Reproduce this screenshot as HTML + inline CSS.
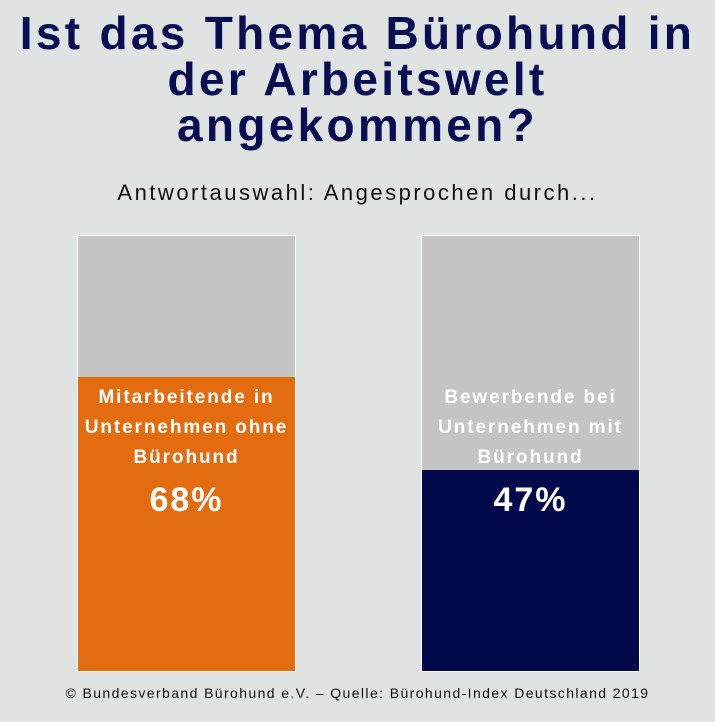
<!DOCTYPE html>
<html><head><meta charset="utf-8"><style>
body{margin:0;width:715px;height:722px;background:#dfe3e2;position:relative;overflow:hidden;font-family:"Liberation Sans",sans-serif}
.t{position:absolute;left:-20px;width:755px;text-align:center;color:#0a0d52;font-weight:bold;font-size:46px;line-height:46px;top:10px;letter-spacing:3.3px}
.s{position:absolute;left:-20px;width:755px;text-align:center;top:180px;font-size:22px;color:#111;letter-spacing:2.5px}
.bar{position:absolute;top:235px;width:217px;height:435px;border:1px solid #fff;background:#c4c4c4}
.fill{position:absolute;left:0;right:0;bottom:0}
.lab{position:absolute;left:-20px;right:-20px;text-align:center;color:#fff;font-weight:bold;font-size:19px;line-height:30px;letter-spacing:1.9px}
.pct{position:absolute;left:0;right:0;text-align:center;color:#fff;font-weight:bold;font-size:34px;letter-spacing:2px}
.f{position:absolute;left:-20px;width:755px;text-align:center;top:685px;font-size:14px;color:#111;letter-spacing:1.4px}
</style></head><body>
<div class="t">Ist das Thema Bürohund in<br>der Arbeitswelt<br>angekommen?</div>
<div class="s">Antwortauswahl: Angesprochen durch...</div>
<div class="bar" style="left:77px"><div class="fill" style="top:141px;background:#e36b10"></div>
<div class="lab" style="top:147px">Mitarbeitende in<br>Unternehmen ohne<br>Bürohund</div>
<div class="pct" style="top:245px">68%</div></div>
<div class="bar" style="left:421px"><div class="fill" style="top:234px;background:#020a4c"></div>
<div class="lab" style="top:147px">Bewerbende bei<br>Unternehmen mit<br>Bürohund</div>
<div class="pct" style="top:245px">47%</div></div>
<div class="f">© Bundesverband Bürohund e.V. – Quelle: Bürohund-Index Deutschland 2019</div>
</body></html>
